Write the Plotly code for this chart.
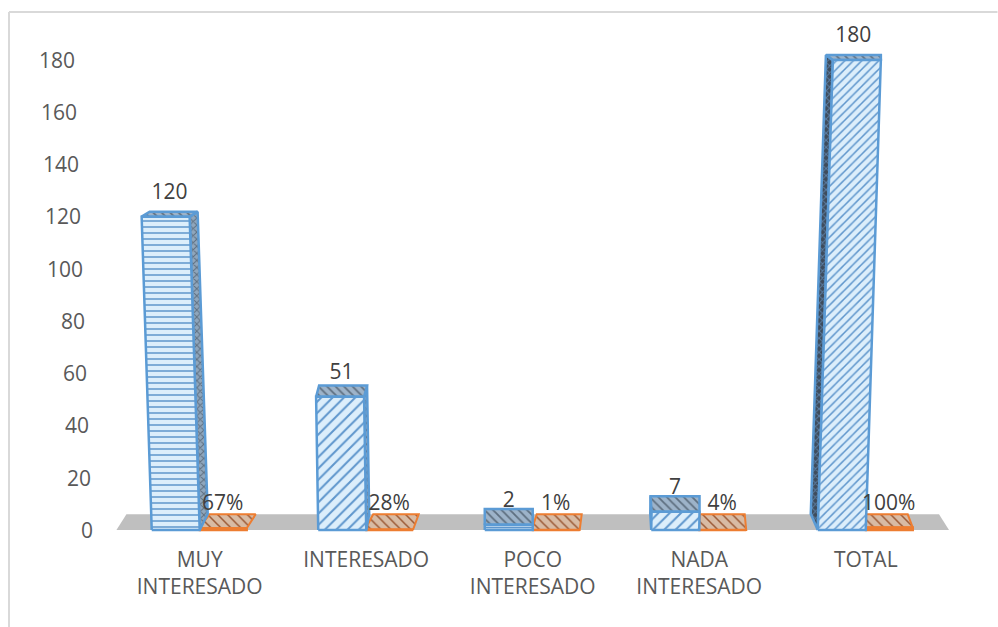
import plotly.graph_objects as go

categorias = ["MUY<br>INTERESADO", "INTERESADO", "POCO<br>INTERESADO", "NADA<br>INTERESADO", "TOTAL"]
cantidad = [120, 51, 2, 7, 180]
porcentaje = [67, 28, 1, 4, 100]
ticks_y = [0, 20, 40, 60, 80, 100, 120, 140, 160, 180]

W, H = 998, 627
FL, PR = 116.5, 949.5          # floor edges in pixels
PL = 20                        # plot area starts left of the floor, room for value labels
PT, PB = 20, 545
Y0, YS = 530, 470 / 180        # pixel of value 0, pixels per unit
XS = (PR - FL) / 5             # pixels per category
px = 1 / XS                    # one horizontal pixel in x units
py = 1 / YS                    # one vertical pixel in y units

profundidad_x = [8, 3, 0, -1, -7]
patron_frente = ["-", "/", "-", "/", "/"]
tam_patron = [6, 8, 7, 8, 6]
FONT = "Open Sans, sans-serif"
BLUE, ORANGE = "#5B9BD5", "#ED7D31"

fig = go.Figure()


def cara(xs, ys, line, bg, fg=None, shape="", size=7, solidity=0.3, width=2.5):
    pat = dict(shape=shape, bgcolor=bg, fgcolor=fg or bg, size=size, solidity=solidity, fillmode="replace")
    fig.add_trace(go.Scatter(x=xs + xs[:1], y=ys + ys[:1], mode="lines", fill="toself", fillcolor=bg,
                             fillpattern=pat, line=dict(color=line, width=width), hoverinfo="skip", showlegend=False))


# floor
fig.add_trace(go.Scatter(x=[-0.5, 4.5, 4.5 - 10 * px, -0.5 + 10 * px, -0.5], y=[0, 0, 6, 6, 0], mode="lines",
                         fill="toself", fillcolor="#BFBFBF", line=dict(width=0), hoverinfo="skip", showlegend=False))

for i, (v, p) in enumerate(zip(cantidad, porcentaje)):
    # second series: flat shares seen from above
    h = p / 100
    l, r = i - 1 * px, i + 47 * px
    d = (i - 2)
    cara([l, r, r + (2 - 3.5 * d) * px, l + (5 - 3 * d) * px], [h, h, 6, 6], ORANGE, "#D8BBA4", "#9C5A36", "\\", 7, 0.22, 2)
    cara([l, r, r, l], [0, 0, h, h], ORANGE, ORANGE)

for i, v in enumerate(cantidad):
    desp = 0.042 * v * (i - 2) * px
    dx = profundidad_x[i] * px
    dy = (16 - 11 * min(v, 120) / 120) * py
    l0, r0 = i - 48 * px, i
    l1, r1 = l0 + desp, r0 + desp
    if dx > 0:
        cara([r0, r1, r1 + dx, r0 + dx], [0, v, v + dy, 16 * py], BLUE, "#8FA6BC", "#5E6F80", "x", 5, 0.35)
    elif dx < 0:
        cara([l0, l1, l1 + dx, l0 + dx], [0, v, v + dy, 16 * py], BLUE, "#3E4C5C", "#5B7FA6", "x", 5, 0.35)
    cara([l1, r1, r1 + max(dx, 0), l1 + dx], [v, v, v + dy, v + dy], BLUE, "#9DB3C9", "#5E6F80", "\\", 6, 0.3)
    cara([l0, r0, r1, l1], [0, 0, v, v], BLUE, "#DCEEFB", "#5F96CC", patron_frente[i], tam_patron[i], 0.25)

# value labels
fig.add_trace(go.Scatter(
    x=[i - 24 * px + 0.042 * v * (i - 2) * px + profundidad_x[i] / 2 * px for i, v in enumerate(cantidad)],
    y=[v + 23 * py for v in cantidad], mode="text", text=[str(v) for v in cantidad],
    textposition="middle center", textfont=dict(family=FONT, size=21, color="#404040"),
    cliponaxis=False, hoverinfo="skip", showlegend=False))
fig.add_trace(go.Scatter(
    x=[i + 23 * px for i in range(5)], y=[9.7] * 5, mode="text", text=[f"{p}%" for p in porcentaje],
    textposition="middle center", textfont=dict(family=FONT, size=21, color="#404040"),
    cliponaxis=False, hoverinfo="skip", showlegend=False))
# value axis labels lean with the perspective of the chart
fig.add_trace(go.Scatter(
    x=[-0.5 + (93 - FL - 0.1 * t) * px for t in ticks_y], y=[t - 2.5 * py for t in ticks_y], mode="text",
    text=[str(t) for t in ticks_y], textposition="middle left",
    textfont=dict(family=FONT, size=21, color="#595959"),
    cliponaxis=False, hoverinfo="skip", showlegend=False))

fig.update_layout(
    width=W, height=H, paper_bgcolor="white", plot_bgcolor="rgba(0,0,0,0)",
    margin=dict(l=PL, r=W - PR, t=PT, b=H - PB, pad=0), showlegend=False,
    font=dict(family=FONT, color="#595959"),
    xaxis=dict(range=[-0.5 - (FL - PL) * px, 4.5], tickmode="array", tickvals=list(range(5)), ticktext=categorias,
               showgrid=False, zeroline=False, showline=False, ticks="", tickangle=0,
               tickfont=dict(family=FONT, size=21, color="#595959")),
    yaxis=dict(range=[(Y0 - PB) * py, (Y0 - PT) * py], showgrid=False, zeroline=False, showline=False,
               showticklabels=False, ticks=""),
    shapes=[
        dict(type="line", xref="paper", yref="paper", x0=(9 - PL) / (PR - PL), x1=(W - PL) / (PR - PL),
             y0=(PB - 12) / (PB - PT), y1=(PB - 12) / (PB - PT), line=dict(color="#D9D9D9", width=2)),
        dict(type="line", xref="paper", yref="paper", x0=(9 - PL) / (PR - PL), x1=(9 - PL) / (PR - PL),
             y0=(PB - H) / (PB - PT), y1=(PB - 12) / (PB - PT), line=dict(color="#D9D9D9", width=2)),
    ],
)

fig.write_html("out.html", config=dict(displayModeBar=False),
               post_script="document.body.style.margin='0';document.body.style.overflow='hidden';")
